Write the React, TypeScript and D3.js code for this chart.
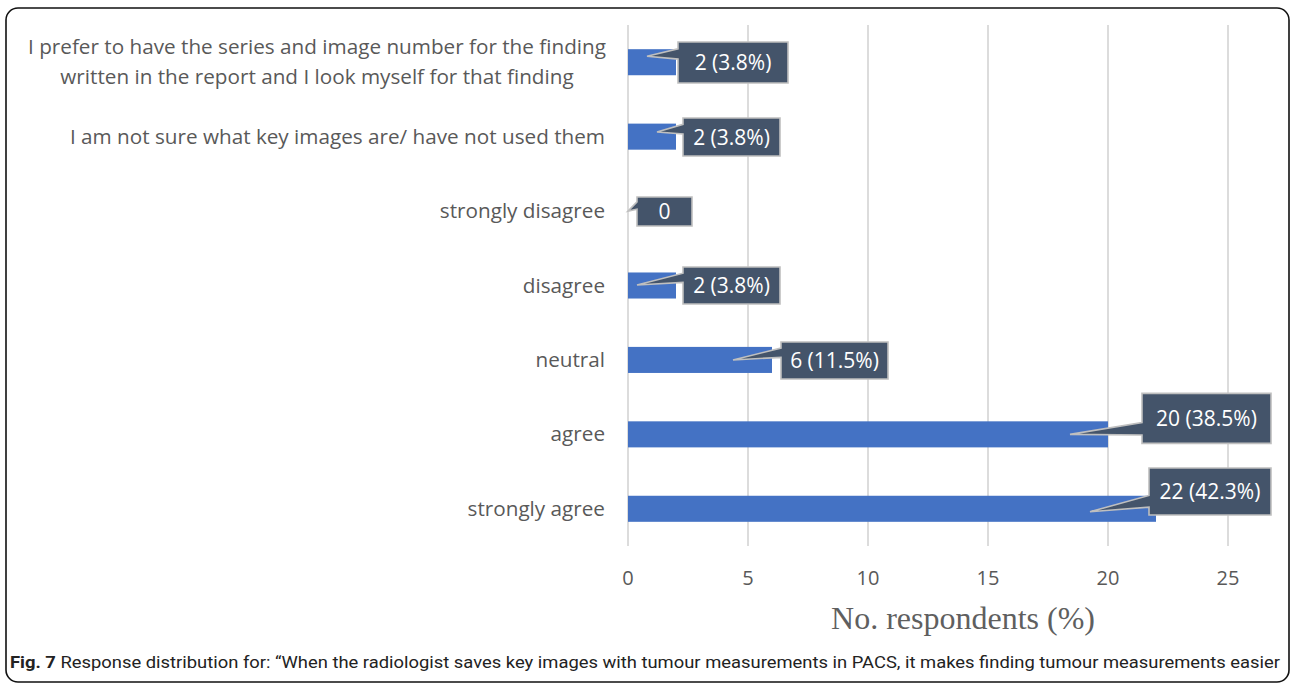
import React from "react";
import * as d3 from "d3";

// Survey responses, top to bottom
const categories: string[][] = [
  ["I prefer to have the series and image number for the finding", "written in the report and I look myself for that finding"],
  ["I am not sure what key images are/ have not used them"],
  ["strongly disagree"],
  ["disagree"],
  ["neutral"],
  ["agree"],
  ["strongly agree"],
];
const counts: number[] = [2, 2, 0, 2, 6, 20, 22];
const percents: (string | null)[] = ["3.8%", "3.8%", null, "3.8%", "11.5%", "38.5%", "42.3%"];
const xTicks: number[] = [0, 5, 10, 15, 20, 25];

// Callout placement per row: box offset from bar end / band centre, box size, pointer tip offset
const calloutBox: [number, number, number, number][] = [
  [2, 0.3, 110, 41],
  [7, 0.4, 97, 38],
  [9, 0.5, 55, 29],
  [7, 0, 97, 37],
  [9, 0.5, 107, 37],
  [34, -16, 129, 50],
  [-7, -17.3, 122, 47],
];
const calloutTip: [number, number][] = [
  [-29, -6],
  [-19, -4.6],
  [0, 0],
  [-39, -0.5],
  [-39, 0],
  [-38, 0],
  [-66, 3],
];

const W = 1292;
const H = 685;
const plot = { left: 628, right: 1228, top: 25, bottom: 546 };

const labelFont = "'Open Sans', 'Noto Sans', sans-serif";
const gray = "#595959";

export default function App() {
  const x = d3.scaleLinear().domain([0, 25]).range([plot.left, plot.right]);
  const y = d3
    .scaleBand<number>()
    .domain(d3.range(categories.length))
    .range([plot.top, plot.bottom])
    .paddingInner(0.65)
    .paddingOuter(0.325);
  const bw = y.bandwidth();
  const labelRight = 605;
  const catSize = 20.7;

  return (
    <svg
      width={W}
      height={H}
      viewBox={`0 0 ${W} ${H}`}
      style={{ position: "absolute", left: 0, top: 0, background: "#fff" }}
    >
      <rect x={6} y={8} width={1283} height={674} rx={12} ry={12} fill="#fff" stroke="#111" strokeWidth={1.6} />

      {/* vertical gridlines */}
      {xTicks.map((t) => (
        <line key={`g${t}`} x1={x(t)} x2={x(t)} y1={plot.top} y2={plot.bottom} stroke="#d9d9d9" strokeWidth={1.8} />
      ))}

      {/* tick labels */}
      {xTicks.map((t) => (
        <text key={`t${t}`} x={x(t)} y={585} textAnchor="middle" fontFamily={labelFont} fontSize={20} fill={gray}>
          {t}
        </text>
      ))}

      {/* category labels; wrapped labels are centred on the widest line */}
      {categories.map((lines, i) => {
        const cy = (y(i) as number) + bw / 2;
        const lh = 30;
        if (lines.length === 1) {
          return (
            <text key={`c${i}`} x={labelRight} y={cy + 7} textAnchor="end" fontFamily={labelFont} fontSize={catSize} fill={gray}>
              {lines[0]}
            </text>
          );
        }
        return (
          <g key={`c${i}`}>
            {lines.map((ln, j) => (
              <text
                key={j}
                x={labelRight - 288}
                y={cy + 7 + (j - (lines.length - 1) / 2) * lh}
                textAnchor="middle"
                fontFamily={labelFont}
                fontSize={catSize}
                fill={gray}
              >
                {ln}
              </text>
            ))}
          </g>
        );
      })}

      {/* bars */}
      {counts.map((v, i) => (
        <rect key={`b${i}`} x={x(0)} y={y(i) as number} width={x(v) - x(0)} height={bw} fill="#4472c4" />
      ))}

      {/* value callouts */}
      {counts.map((v, i) => {
        const cy = (y(i) as number) + bw / 2;
        const xe = x(v);
        const [bdx, bdy, w, h] = calloutBox[i];
        const left = xe + bdx;
        const top = cy + bdy - h / 2;
        const tipX = xe + calloutTip[i][0];
        const tipY = cy + calloutTip[i][1];
        const lower = tipY > top + h / 2;
        const y1 = top + (h * (lower ? 7 : 2)) / 12;
        const y2 = top + (h * (lower ? 10 : 5)) / 12;
        const path = d3.path();
        path.moveTo(left, top);
        path.lineTo(left + w, top);
        path.lineTo(left + w, top + h);
        path.lineTo(left, top + h);
        path.lineTo(left, y2);
        path.lineTo(tipX, tipY);
        path.lineTo(left, y1);
        path.closePath();
        const label = percents[i] ? `${v} (${percents[i]})` : `${v}`;
        return (
          <g key={`l${i}`}>
            <path d={path.toString()} fill="#44546a" stroke="#bfbfbf" strokeWidth={1.6} strokeLinejoin="miter" />
            <text
              x={left + w / 2}
              y={top + h / 2 + 7.5}
              textAnchor="middle"
              fontFamily={labelFont}
              fontSize={21}
              fill="#fff"
            >
              {label}
            </text>
          </g>
        );
      })}

      {/* axis title */}
      <text x={963} y={629} textAnchor="middle" fontFamily="'Liberation Serif', 'DejaVu Serif', serif" fontSize={32} fill="#5f5f5f">
        No. respondents (%)
      </text>

      {/* caption */}
      <text
        x={10}
        y={668}
        fontFamily="Roboto, 'Open Sans', sans-serif"
        fontSize={17}
        fill="#222"
        textLength={1270}
        lengthAdjust="spacingAndGlyphs"
      >
        <tspan fontWeight="bold">Fig. 7</tspan>
        <tspan> Response distribution for: “When the radiologist saves key images with tumour measurements in PACS, it makes finding tumour measurements easier</tspan>
      </text>
    </svg>
  );
}
